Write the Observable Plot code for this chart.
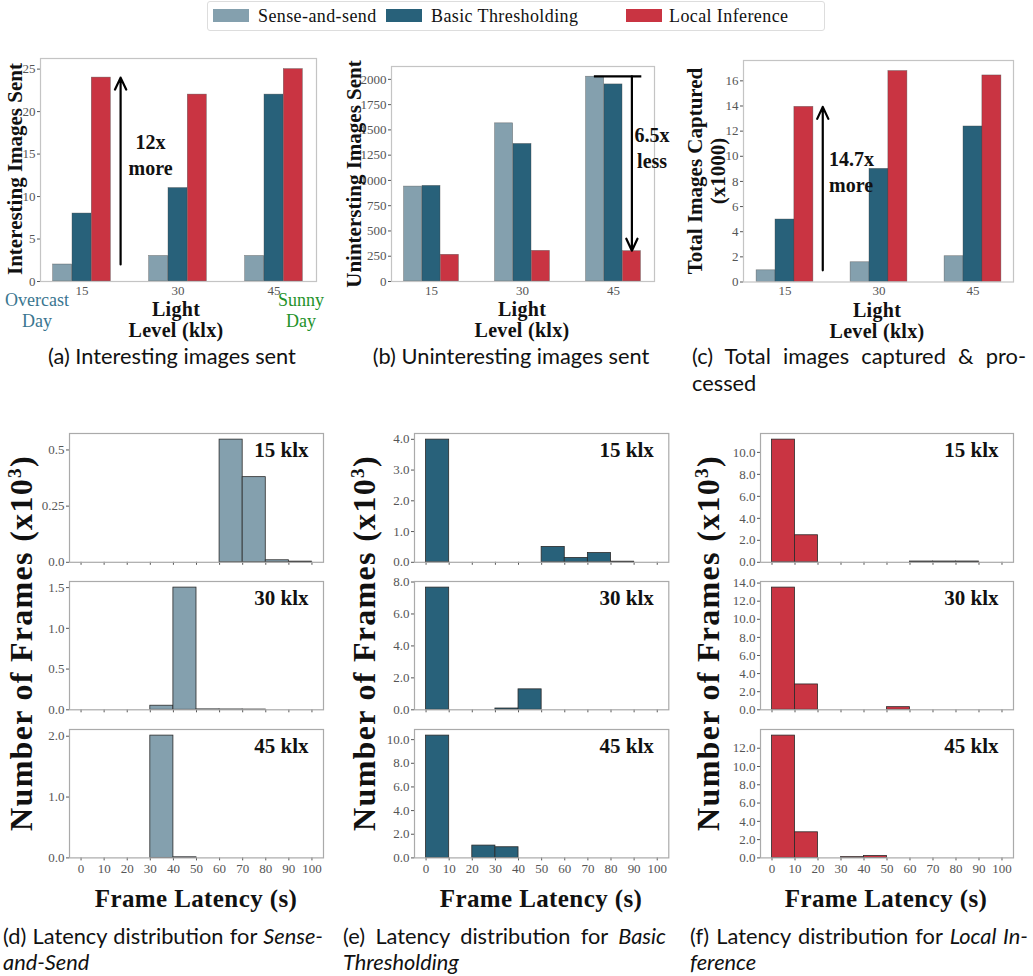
<!DOCTYPE html>
<html><head><meta charset="utf-8">
<script src="https://cdn.jsdelivr.net/npm/d3@7"></script>
<script src="https://cdn.jsdelivr.net/npm/@observablehq/plot@0.6"></script>
<style>
body{margin:0;background:#fff;}
#root{position:relative;width:1033px;height:976px;overflow:hidden;background:#fff;}
.abs{position:absolute;white-space:nowrap;line-height:1;}
.serif{font-family:"Liberation Serif",serif;color:#111;}
.b{font-weight:bold;}
.rot{transform:translate(-50%,-50%) rotate(-90deg);}
.cen{transform:translate(-50%,-50%);}
.cap{font-family:Lato,sans-serif;font-size:21.8px;color:#111;}
.just{text-align:justify;text-align-last:justify;}
svg{overflow:visible;}
#root svg, #root svg text{font-family:"Liberation Serif",serif !important;}
</style></head><body><div id="root"></div>
<script>
// ---------------- data ----------------
const levels = ["15", "30", "45"];
const seriesNames = ["Sense-and-send", "Basic Thresholding", "Local Inference"];
const seriesColors = ["#84a0ae", "#28617a", "#c93442"];

const interestingSense = [2, 3, 3];
const interestingBasic = [8, 11, 22];
const interestingLocal = [24, 22, 25];

const uninterestingSense = [939, 1565, 2026];
const uninterestingBasic = [946, 1361, 1950];
const uninterestingLocal = [264, 303, 300];

const totalSense = [0.93, 1.57, 2.05];
const totalBasic = [4.97, 9.0, 12.37];
const totalLocal = [13.93, 16.78, 16.43];

const ticksA = [0, 5, 10, 15, 20, 25];
const ticksB = [0, 250, 500, 750, 1000, 1250, 1500, 1750, 2000];
const ticksC = [0, 2, 4, 6, 8, 10, 12, 14, 16];

const binEdges = [0, 10, 20, 30, 40, 50, 60, 70, 80, 90, 100];
const latencyTicks = [0, 10, 20, 30, 40, 50, 60, 70, 80, 90, 100];
const rowLabels = ["15 klx", "30 klx", "45 klx"];

const latSense15 = [0, 0, 0, 0, 0, 0, 0.546, 0.379, 0.009, 0.003];
const latSense30 = [0, 0, 0, 0.05, 1.50, 0.005, 0.004, 0.003, 0, 0];
const latSense45 = [0, 0, 0, 2.01, 0.01, 0, 0, 0, 0, 0];
const latBasic15 = [3.99, 0, 0, 0, 0, 0.50, 0.14, 0.30, 0.02, 0];
const latBasic30 = [7.65, 0, 0, 0.08, 1.28, 0, 0, 0, 0, 0];
const latBasic45 = [10.34, 0, 1.04, 0.90, 0, 0, 0, 0, 0, 0];
const latLocal15 = [11.16, 2.46, 0, 0, 0, 0, 0.07, 0.07, 0.07, 0];
const latLocal30 = [13.5, 2.8, 0, 0, 0, 0.29, 0, 0, 0, 0];
const latLocal45 = [13.38, 2.8, 0, 0.08, 0.2, 0, 0, 0, 0, 0];

const ticksSense15 = [0, 0.25, 0.5];
const ticksSense30 = [0, 0.5, 1.0, 1.5];
const ticksSense45 = [0, 1, 2];
const ticksBasic15 = [0, 1, 2, 3, 4];
const ticksBasic30 = [0, 2, 4, 6, 8];
const ticksBasic45 = [0, 2, 4, 6, 8, 10];
const ticksLocal15 = [0, 2, 4, 6, 8, 10];
const ticksLocal30 = [0, 2, 4, 6, 8, 10, 12, 14];
const ticksLocal45 = [0, 2, 4, 6, 8, 10, 12];

// annotation values (data units)
const arrowA = {from: 2, to: 24, text: "12x\nmore", textY: 15.1};
const arrowB = {from: 2030, to: 305, text: "6.5x\nless", textY: 1335};
const arrowC = {from: 0.93, to: 13.93, text: "14.7x\nmore", textY: 8.85};

// ---------------- helpers ----------------
const root = document.getElementById("root");
const SERIF = "Liberation Serif, serif";
function addDiv(html, cls, style) {
  const d = document.createElement("div");
  d.className = "abs " + cls;
  d.innerHTML = html;
  Object.assign(d.style, style);
  root.appendChild(d);
  return d;
}
function place(svg, left, top) {
  svg.style.position = "absolute";
  svg.style.left = left + "px";
  svg.style.top = top + "px";
  root.appendChild(svg);
}
function rows(arr) { return levels.map((l, i) => ({level: l, value: arr[i]})); }

function barChart({L, R, T, B, sets, ticks, extraMarks}) {
  const mL = 45, mR = 30, mT = 10, mB = 25;
  const W = R - L, H = B - T;
  const step = W / (3 - 0.8 + 2 * 0.33);
  const bw = step * 0.2;
  const ymax = d3.max(sets.flat()) * 1.05;
  const marks = sets.map((s, i) => Plot.barY(rows(s), {
    x: "level", y: "value", dx: (i - 1) * bw, fill: seriesColors[i],
    stroke: "#444", strokeWidth: 0.6, strokeOpacity: 0.6
  }));
  marks.push(Plot.frame({stroke: "#c4c4c4", strokeWidth: 1.2}));
  marks.push(...extraMarks(step, bw));
  const svg = Plot.plot({
    width: W + mL + mR, height: H + mT + mB,
    marginLeft: mL, marginRight: mR, marginTop: mT, marginBottom: mB,
    style: {fontFamily: SERIF, fontSize: "13px", color: "#555", background: "transparent"},
    x: {type: "band", domain: levels, paddingInner: 0.8, paddingOuter: 0.33, align: 0.5,
        tickSize: 0, tickPadding: 4, label: null},
    y: {domain: [0, ymax], ticks, tickFormat: d => String(d), tickSize: 3, tickPadding: 2, label: null},
    marks
  });
  place(svg, L - mL, T - mT);
}

function fmtTick(d) { return (Math.round(d * 10) !== d * 10) ? String(d) : d.toFixed(1); }

function hist({L, R, T, B, counts, ticks, color, label, showX}) {
  const mL = 45, mR = 5, mT = 5, mB = showX ? 25 : 6;
  const data = binEdges.slice(0, -1).map((x0, i) => ({x0, x1: binEdges[i + 1], c: counts[i]})).filter(d => d.c > 0);
  const svg = Plot.plot({
    width: R - L + mL + mR, height: B - T + mT + mB,
    marginLeft: mL, marginRight: mR, marginTop: mT, marginBottom: mB,
    style: {fontFamily: SERIF, fontSize: "13px", color: "#555", background: "transparent"},
    x: {domain: [-5, 105], ticks: latencyTicks, tickSize: 3, tickPadding: 3, label: null,
        tickFormat: showX ? (d => String(d)) : (() => "")},
    y: {domain: [0, d3.max(counts) * 1.05], ticks, tickFormat: fmtTick, tickSize: 3, tickPadding: 2, label: null},
    marks: [
      Plot.rectY(data, {x1: "x0", x2: "x1", y: "c", fill: color, stroke: "#2a2a2a", strokeWidth: 0.8}),
      Plot.frame({stroke: "#aaa", strokeWidth: 1.2}),
      Plot.text([label], {frameAnchor: "top-right", dx: -15, dy: 9, fontSize: 21, fontWeight: "bold",
        fontFamily: SERIF, fill: "#111"})
    ]
  });
  place(svg, L - mL, T - mT);
}

// ---------------- legend ----------------
addDiv("", "", {left: "207px", top: "1px", width: "618px", height: "30px", border: "1px solid #ddd", borderRadius: "3px", boxSizing: "border-box"});
const legendSw = [213, 386, 626];
const legendTx = [258, 431, 669];
seriesNames.forEach((n, i) => {
  addDiv("", "", {left: legendSw[i] + "px", top: "9px", width: "36px", height: "13px", background: seriesColors[i]});
  addDiv(n, "serif", {left: legendTx[i] + "px", top: "7px", fontSize: "18px", letterSpacing: "0.4px"});
});

// ---------------- top bar charts ----------------
const txt = (t, o) => Plot.text([t], {
  fontFamily: SERIF, fontSize: 20, fontWeight: "bold", fill: "#111", lineHeight: 1.3, ...o
});
barChart({L: 40, R: 316, T: 58, B: 281, ticks: ticksA,
  sets: [interestingSense, interestingBasic, interestingLocal],
  extraMarks: (step, bw) => [
    Plot.arrow([arrowA], {x1: () => "15", x2: () => "15", y1: "from", y2: "to", dx: 0.4 * step,
      stroke: "#000", strokeWidth: 2.2, headLength: 9, headAngle: 50}),
    txt(arrowA.text, {x: () => "15", y: () => arrowA.textY, dx: 0.71 * step})
  ]});
barChart({L: 391, R: 654, T: 66, B: 281, ticks: ticksB,
  sets: [uninterestingSense, uninterestingBasic, uninterestingLocal],
  extraMarks: (step, bw) => [
    Plot.tickY([arrowB], {x: () => "45", y: "from", insetLeft: -bw * 0.55, insetRight: -bw * 1.05,
      stroke: "#000", strokeWidth: 2.2}),
    Plot.arrow([arrowB], {x1: () => "45", x2: () => "45", y1: "from", y2: "to", dx: bw,
      stroke: "#000", strokeWidth: 2.2, headLength: 9, headAngle: 50}),
    txt(arrowB.text, {x: () => "45", y: () => arrowB.textY, dx: 0.42 * step})
  ]});
barChart({L: 743, R: 1013, T: 60, B: 281.5, ticks: ticksC,
  sets: [totalSense, totalBasic, totalLocal],
  extraMarks: (step, bw) => [
    Plot.arrow([arrowC], {x1: () => "15", x2: () => "15", y1: "from", y2: "to", dx: 0.4 * step,
      stroke: "#000", strokeWidth: 2.2, headLength: 9, headAngle: 50}),
    txt(arrowC.text, {x: () => "15", y: () => arrowC.textY, dx: 0.466 * step, textAnchor: "start"})
  ]});

// top axis titles
const ylab = {fontSize: "21px"};
addDiv("Interesting Images Sent", "serif b rot", {left: "15px", top: "169px", ...ylab});
addDiv("Unintersting Images Sent", "serif b rot", {left: "354px", top: "174px", ...ylab});
addDiv("Total Images Captured", "serif b rot", {left: "695px", top: "171px", ...ylab});
addDiv("(x1000)", "serif b rot", {left: "718px", top: "171px", ...ylab});
[[176, 309], [522, 309], [877, 310]].forEach(([x, y]) => {
  addDiv("Light", "serif b cen", {left: x + "px", top: y + "px", fontSize: "20px", letterSpacing: "0.3px"});
  addDiv("Level (klx)", "serif b cen", {left: x + "px", top: (y + 21) + "px", fontSize: "20px", letterSpacing: "0.3px"});
});
addDiv("Overcast", "serif cen", {left: "37px", top: "300px", fontSize: "18px", color: "#3a7690"});
addDiv("Day", "serif cen", {left: "37px", top: "321px", fontSize: "18px", color: "#3a7690"});
addDiv("Sunny", "serif cen", {left: "301px", top: "300px", fontSize: "18px", color: "#23922a"});
addDiv("Day", "serif cen", {left: "301px", top: "321px", fontSize: "18px", color: "#23922a"});

// captions top
addDiv("(a) Interesting images sent", "cap cen", {left: "172px", top: "356px"});
addDiv("(b) Uninteresting images sent", "cap cen", {left: "511px", top: "356px"});
addDiv("(c) Total images captured &amp; pro-", "cap just", {left: "692px", top: "345px", width: "334px"});
addDiv("cessed", "cap", {left: "692px", top: "372px"});

// ---------------- histograms ----------------
const cols = [{L: 69.3, R: 323.3}, {L: 414, R: 668.3}, {L: 760.3, R: 1013.3}];
const rws = [{T: 432.5, B: 561.3}, {T: 581, B: 709.3}, {T: 729.3, B: 857.7}];
const histCounts = [[latSense15, latSense30, latSense45], [latBasic15, latBasic30, latBasic45], [latLocal15, latLocal30, latLocal45]];
const histTicks = [[ticksSense15, ticksSense30, ticksSense45], [ticksBasic15, ticksBasic30, ticksBasic45], [ticksLocal15, ticksLocal30, ticksLocal45]];
cols.forEach((c, ci) => {
  rws.forEach((r, ri) => {
    hist({L: c.L, R: c.R, T: r.T, B: r.B, counts: histCounts[ci][ri], ticks: histTicks[ci][ri],
      color: seriesColors[ci], label: rowLabels[ri], showX: ri === 2});
  });
});
[21, 364, 708].forEach(x => {
  addDiv("Number of Frames (x10<sup style='font-size:60%'>3</sup>)", "serif b rot",
    {left: x + "px", top: "643px", fontSize: "32px", letterSpacing: "1.3px"});
});
[196, 541, 886].forEach(x => {
  addDiv("Frame Latency (s)", "serif b cen", {left: x + "px", top: "898px", fontSize: "25px", letterSpacing: "0.4px"});
});

// captions bottom
addDiv("(d) Latency distribution for <i>Sense-</i>", "cap just", {left: "3px", top: "925px", width: "320px"});
addDiv("<i>and-Send</i>", "cap", {left: "3px", top: "951px"});
addDiv("(e) Latency distribution for <i>Basic</i>", "cap just", {left: "343px", top: "925px", width: "323px"});
addDiv("<i>Thresholding</i>", "cap", {left: "343px", top: "951px"});
addDiv("(f) Latency distribution for <i>Local In-</i>", "cap just", {left: "690px", top: "925px", width: "338px"});
addDiv("<i>ference</i>", "cap", {left: "690px", top: "951px"});
</script></body></html>
